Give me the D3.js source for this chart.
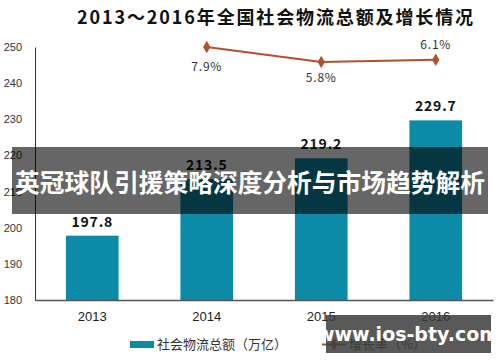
<!DOCTYPE html>
<html>
<head>
<meta charset="utf-8">
<script src="https://cdn.jsdelivr.net/npm/d3@7"></script>
<style>
  body { margin: 0; background: #fff; }
  svg { display: block; font-family: "Noto Sans CJK SC", "DejaVu Sans", sans-serif; }
</style>
</head>
<body>
<svg id="chart" width="500" height="362"></svg>
<script>
var years = ["2013", "2014", "2015", "2016"];
var totals = [197.8, 213.5, 219.2, 229.7];
var rateYears = ["2014", "2015", "2016"];
var rates = [7.9, 5.8, 6.1];
var yTicks = [180, 190, 200, 210, 220, 230, 240, 250];

var svg = d3.select("#chart");

var margin = {top: 47, bottom: 62, left: 35, right: 7};
var width = 500 - margin.left - margin.right,
    plotBottom = 300;

var x = d3.scaleBand().domain(years)
    .range([margin.left, margin.left + width])
    .paddingInner(0.54).paddingOuter(0.27);
var y = d3.scaleLinear().domain([180, 250]).range([plotBottom, margin.top]);
var y2 = d3.scaleLinear().domain([0, 10]).range([103.4, 32]);

// title
svg.append("text")
    .attr("x", 77).attr("y", 24)
    .attr("textLength", 396).attr("lengthAdjust", "spacing")
    .style("font-size", "18px").style("font-weight", "bold").style("fill", "#111")
    .text("2013～2016年全国社会物流总额及增长情况");

// y axis
var yAxis = svg.append("g")
    .attr("transform", `translate(${margin.left},0)`)
    .call(d3.axisLeft(y).tickValues(yTicks).tickSize(0).tickPadding(13));
yAxis.select(".domain").attr("stroke", "#333");
yAxis.selectAll("text").style("font-size", "11px").style("fill", "#333")
    .style("font-family", "'Liberation Sans', Arial, sans-serif");

// bars
svg.selectAll(".bar").data(totals).enter().append("rect")
    .attr("class", "bar")
    .attr("x", function(d, i) { return x(years[i]); })
    .attr("width", x.bandwidth())
    .attr("y", function(d) { return y(d); })
    .attr("height", function(d) { return plotBottom - y(d); })
    .style("fill", "#0d8aa8");

svg.selectAll(".bar-label").data(totals).enter().append("text")
    .attr("x", function(d, i) { return x(years[i]) + x.bandwidth() / 2; })
    .attr("y", function(d) { return y(d) - 9; })
    .style("text-anchor", "middle").style("font-size", "14px").style("font-weight", "bold")
    .style("letter-spacing", "0.8px").style("fill", "#111")
    .text(function(d) { return d.toFixed(1); });

// x axis
var xAxis = svg.append("g")
    .attr("transform", `translate(0,${plotBottom})`)
    .call(d3.axisBottom(x).tickSize(0).tickPadding(12));
xAxis.select(".domain").attr("stroke", "#555").attr("stroke-width", 1.5);
xAxis.selectAll("text").style("font-size", "13px").style("fill", "#222")
    .style("font-family", "'Liberation Sans', Arial, sans-serif");

// growth line
var lineColor = "#b2502c";
var line = d3.line()
    .x(function(d, i) { return x(rateYears[i]) + x.bandwidth() / 2; })
    .y(function(d) { return y2(d); });
svg.append("path").datum(rates)
    .attr("d", line).attr("fill", "none")
    .attr("stroke", lineColor).attr("stroke-width", 2);

svg.selectAll(".dot").data(rates).enter().append("path")
    .attr("d", d3.symbol().type(d3.symbolDiamond).size(45))
    .attr("transform", function(d, i) {
        return `translate(${x(rateYears[i]) + x.bandwidth() / 2},${y2(d)})`;
    })
    .style("fill", lineColor);

var rateOffsets = [[0, 24], [0, 20], [0, -11]];
svg.selectAll(".rate-label").data(rates).enter().append("text")
    .attr("x", function(d, i) { return x(rateYears[i]) + x.bandwidth() / 2 + rateOffsets[i][0]; })
    .attr("y", function(d, i) { return y2(d) + rateOffsets[i][1]; })
    .style("text-anchor", "middle").style("font-size", "12px").style("fill", "#333")
    .style("letter-spacing", "0.8px")
    .text(function(d) { return d.toFixed(1) + "%"; });

// legend
svg.append("rect").attr("x", 130).attr("y", 341).attr("width", 24).attr("height", 7)
    .style("fill", "#0d8aa8");
svg.append("text").attr("x", 157).attr("y", 349)
    .style("font-size", "13px").style("fill", "#333")
    .text("社会物流总额（万亿）");
svg.append("line").attr("x1", 322).attr("x2", 346).attr("y1", 344.5).attr("y2", 344.5)
    .attr("stroke", lineColor).attr("stroke-width", 2);
svg.append("path").attr("d", d3.symbol().type(d3.symbolDiamond).size(40))
    .attr("transform", "translate(334,344.5)").style("fill", lineColor);
svg.append("text").attr("x", 349).attr("y", 349)
    .style("font-size", "13px").style("fill", "#333")
    .text("增长率（%）");

// overlay banner
svg.append("rect").attr("x", 12).attr("y", 147).attr("width", 476).attr("height", 67)
    .style("fill", "rgba(0,0,0,0.6)");
svg.append("text").attr("x", 250).attr("y", 192)
    .attr("textLength", 470).attr("lengthAdjust", "spacingAndGlyphs")
    .style("text-anchor", "middle").style("font-size", "25px").style("font-weight", "bold")
    .style("fill", "#fff")
    .text("英冠球队引援策略深度分析与市场趋势解析");

// site badge
svg.append("rect").attr("x", 326).attr("y", 315).attr("width", 165).attr("height", 38)
    .style("fill", "rgba(60,60,60,0.85)");
svg.append("text").attr("x", 408).attr("y", 341)
    .style("text-anchor", "middle").style("font-size", "19px").style("font-weight", "bold")
    .style("fill", "#fff").style("font-family", "'DejaVu Sans', sans-serif")
    .text("www.ios-bty.com");
</script>
</body>
</html>
